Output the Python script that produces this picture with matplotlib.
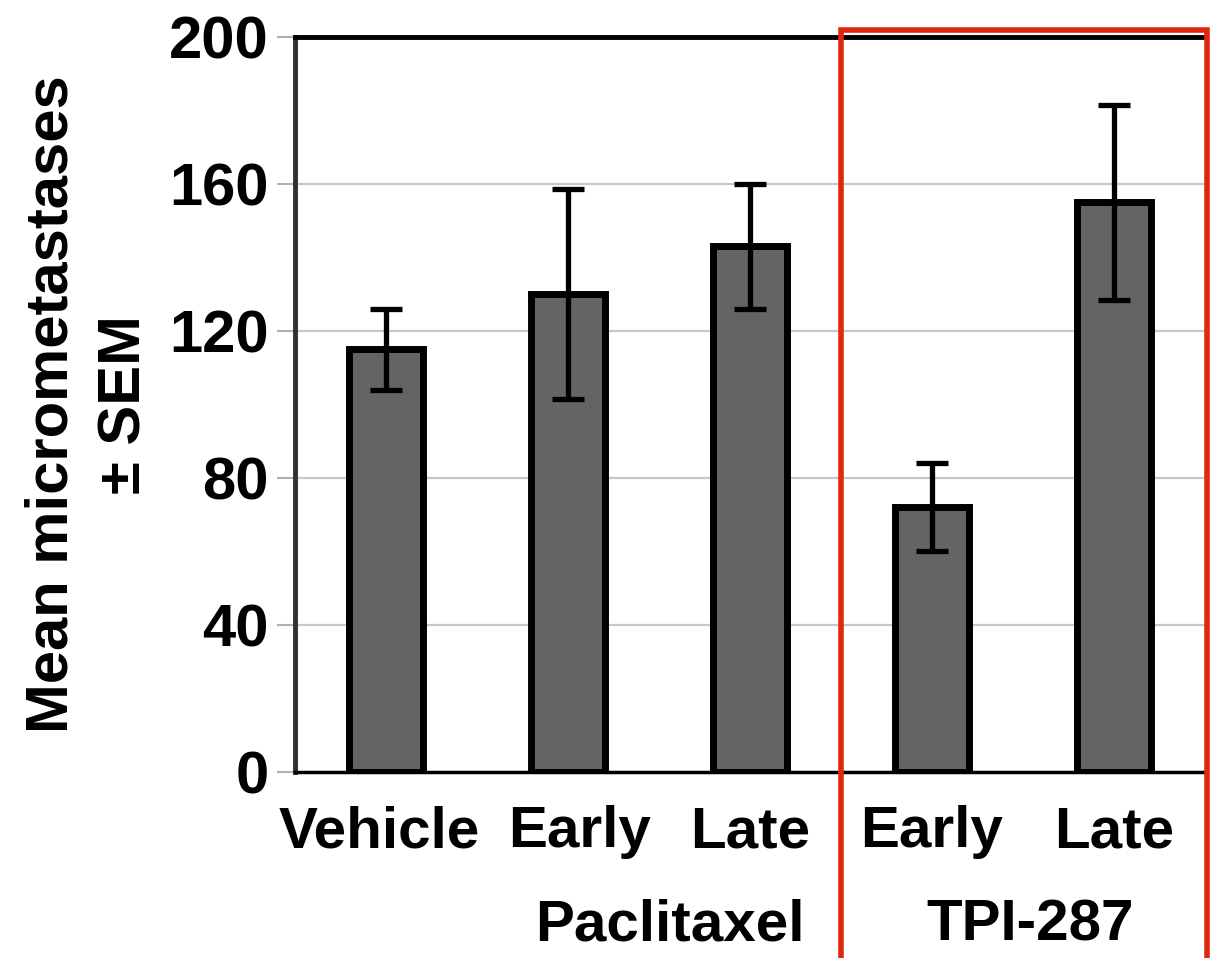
import matplotlib
matplotlib.use("Agg")
import matplotlib.pyplot as plt
from matplotlib.patches import Rectangle
from matplotlib.transforms import ScaledTranslation

categories = ["Vehicle", "Early", "Late", "Early", "Late"]
means = [115, 130, 143, 72, 155]
sem = [11, 28.5, 17, 12, 26.5]
groups = ["Paclitaxel", "TPI-287"]
group_centers = [1.56, 3.54]
yticks = [0, 40, 80, 120, 160, 200]

plt.rcParams['font.family'] = ['Liberation Sans', 'DejaVu Sans']
plt.rcParams['font.weight'] = 'bold'
FS = 43

fig = plt.figure(figsize=(12.17, 9.58), dpi=100)
ax = fig.add_axes([0.2424, 0.1942, 0.7476, 0.7672])

x = list(range(len(categories)))
ax.bar(x, means, width=0.41, color="#646464", edgecolor="black", linewidth=5, zorder=3)
ax.errorbar(x, means, yerr=sem, fmt="none", ecolor="black", elinewidth=3.8,
            capsize=11.5, capthick=3.8, zorder=4)

ax.set_xlim(-0.5, len(categories) - 0.5)
ax.set_ylim(0, 200)
ax.set_yticks(yticks)
ax.set_yticklabels([str(t) for t in yticks], fontsize=FS, fontweight='bold')
ax.set_xticks(x)
ax.set_xticklabels(categories, fontsize=FS - 1, fontweight='bold')
ax.tick_params(axis='x', length=0, pad=24)
ax.tick_params(axis='y', length=13, width=1.5, color="#b0b0b0", pad=6)

# nudge the first two category labels apart
nudges = [-0.07, 0.12, 0, 0, 0]
for lbl, dx in zip(ax.get_xticklabels(), nudges):
    lbl.set_transform(lbl.get_transform() + ScaledTranslation(dx, 0, fig.dpi_scale_trans))

ax.yaxis.grid(True, color="#c8c8c8", linewidth=1.6, zorder=0)
ax.set_axisbelow(True)

ax.spines['right'].set_visible(False)
ax.spines['left'].set_linewidth(3.5)
ax.spines['left'].set_color("#303030")
ax.spines['top'].set_linewidth(3.5)
ax.spines['bottom'].set_linewidth(2.5)

ax.set_ylabel("Mean micrometastases\n± SEM", fontsize=FS, fontweight='bold',
              labelpad=12, linespacing=1.4)

# group labels below the category labels
trans = ax.get_xaxis_transform()
for name, cx in zip(groups, group_centers):
    ax.text(cx, -0.209, name, transform=trans, ha='center', va='center',
            fontsize=FS - 1, fontweight='bold')

# highlight box around the TPI-287 group
box = Rectangle((2.5, -0.35), 2.01, 1.36, transform=trans, fill=False,
                edgecolor="#e0280c", linewidth=4, clip_on=False, zorder=5)
ax.add_patch(box)

fig.savefig("out.png", dpi=100)
